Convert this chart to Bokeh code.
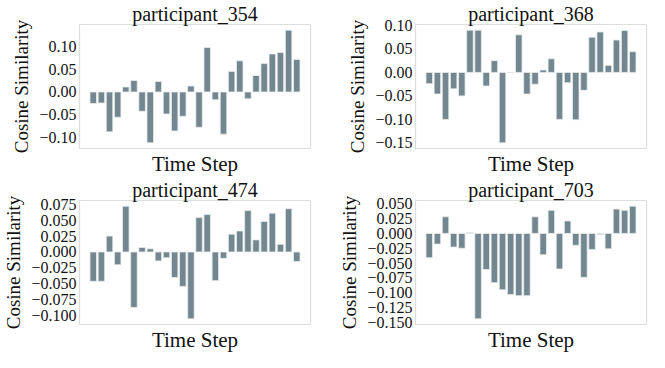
from bokeh.plotting import figure
from bokeh.layouts import gridplot
from bokeh.models import FixedTicker, Range1d, CustomJSTickFormatter, Title
from bokeh.embed import file_html
from bokeh.resources import INLINE

titles = ["participant_354", "participant_368", "participant_474", "participant_703"]
x_label = "Time Step"
y_label = "Cosine Similarity"

p354 = [-0.025, -0.024, -0.087, -0.055, 0.011, 0.025, -0.042, -0.111, 0.023, -0.048,
        -0.085, -0.053, 0.013, -0.077, 0.097, -0.017, -0.092, 0.045, 0.068, -0.015,
        0.036, 0.062, 0.083, 0.086, 0.135, 0.071]
p368 = [-0.024, -0.046, -0.100, -0.035, -0.050, 0.090, 0.090, -0.029, 0.025, -0.150,
        -0.001, 0.080, -0.046, -0.025, 0.005, 0.029, -0.100, -0.022, -0.101, -0.038,
        0.075, 0.086, 0.015, 0.069, 0.089, 0.044]
p474 = [-0.046, -0.046, 0.025, -0.020, 0.072, -0.087, 0.007, 0.005, -0.014, -0.009,
        -0.040, -0.054, -0.105, 0.054, 0.059, -0.045, -0.010, 0.028, 0.033, 0.065,
        0.019, 0.048, 0.061, 0.012, 0.068, -0.015]
p703 = [-0.041, -0.018, 0.028, -0.023, -0.025, 0.001, -0.144, -0.061, -0.083, -0.095,
        -0.103, -0.105, -0.105, 0.028, -0.036, 0.039, -0.060, 0.021, -0.020, -0.074,
        -0.027, -0.002, -0.026, 0.041, 0.039, 0.046]

ticks354 = [-0.10, -0.05, 0.0, 0.05, 0.10]
ticks368 = [-0.15, -0.10, -0.05, 0.0, 0.05, 0.10]
ticks474 = [-0.100, -0.075, -0.050, -0.025, 0.0, 0.025, 0.050, 0.075]
ticks703 = [-0.150, -0.125, -0.100, -0.075, -0.050, -0.025, 0.0, 0.025, 0.050]
decimals = [2, 2, 3, 3]

series = [p354, p368, p474, p703]
ticks = [ticks354, ticks368, ticks474, ticks703]

FONT = "Liberation Serif"
BAR = "#72878f"
INK = "#111111"


def make(i):
    vals = series[i]
    n = len(vals)
    lo, hi = min(vals), max(vals)
    pad = (hi - lo) * 0.05
    xlo, xhi = -0.4, n - 1 + 0.4
    xpad = (xhi - xlo) * 0.05
    left_col = i % 2 == 0
    width = 336 if left_col else 313
    p = figure(width=width, height=176, output_backend="svg", toolbar_location=None,
               x_range=Range1d(xlo - xpad, xhi + xpad),
               y_range=Range1d(lo - pad, hi + pad), x_axis_location=None,
               min_border_left=72, min_border_right=(26 if left_col else 3),
               min_border_top=0, min_border_bottom=0)
    p.vbar(x=list(range(n)), top=vals, bottom=0, width=0.8,
           fill_color=BAR, line_color="#e8ecee", line_width=0.8)
    p.title.text = titles[i]
    p.title.text_font = FONT
    p.title.text_font_size = "20px"
    p.title.text_font_style = "normal"
    p.title.align = "center"
    p.title.standoff = 0
    p.title.text_color = INK
    p.add_layout(Title(text=x_label, align="center", text_font=FONT,
                       text_font_size="21px", text_font_style="normal",
                       text_color=INK, standoff=2), "below")
    p.xgrid.visible = False
    p.ygrid.visible = False
    p.outline_line_color = "#dddddd"
    p.outline_line_width = 1.2

    p.yaxis.ticker = FixedTicker(ticks=ticks[i])
    p.yaxis.formatter = CustomJSTickFormatter(
        args=dict(d=decimals[i]),
        code="return (tick < -1e-9 ? '\u2212' : '') + Math.abs(tick).toFixed(d);")
    p.yaxis.axis_line_color = None
    p.yaxis.major_tick_line_color = None
    p.yaxis.minor_tick_line_color = None
    p.yaxis.major_tick_out = 0
    p.yaxis.major_tick_in = 0
    p.yaxis.minor_tick_out = 0
    p.yaxis.major_label_standoff = 3
    p.yaxis.major_label_text_font = FONT
    p.yaxis.major_label_text_font_size = "16px"
    p.yaxis.major_label_text_color = INK
    p.yaxis.axis_label = y_label
    p.yaxis.axis_label_standoff = 4
    p.yaxis.axis_label_text_font = FONT
    p.yaxis.axis_label_text_font_size = "19px"
    p.yaxis.axis_label_text_font_style = "normal"
    p.yaxis.axis_label_text_color = INK
    return p


figs = [make(i) for i in range(4)]
grid = gridplot([[figs[0], figs[1]], [figs[2], figs[3]]], toolbar_location=None)

open("out.html", "w").write(file_html(grid, INLINE))
